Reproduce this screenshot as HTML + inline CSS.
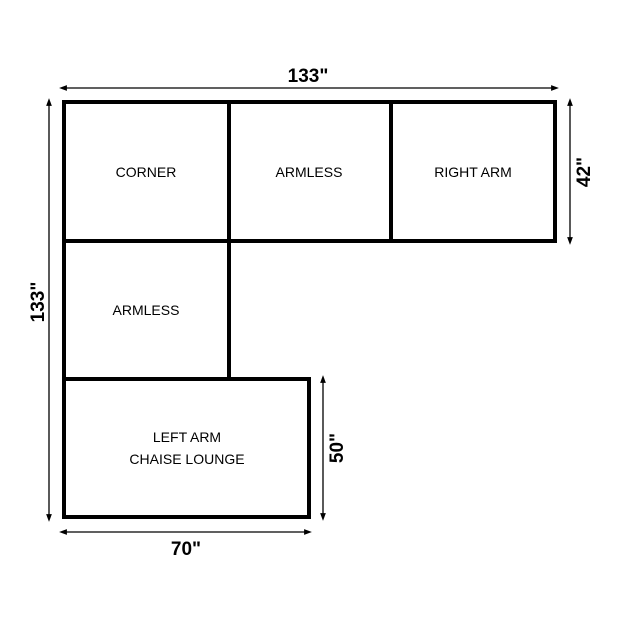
<!DOCTYPE html>
<html><head><style>html,body{margin:0;padding:0;background:#fff}</style></head><body>
<svg width="620" height="620" xmlns="http://www.w3.org/2000/svg" font-family="Liberation Sans, sans-serif">
<defs><marker id="a" markerWidth="6" markerHeight="6" refX="3" refY="3" orient="auto-start-reverse"><path d="M0,0.8 L6,3 L0,5.2z" fill="#000"/></marker></defs>
<g stroke="#000" stroke-width="4" fill="none">
<rect x="64" y="102" width="491" height="139"/>
<line x1="229" y1="102" x2="229" y2="241"/>
<line x1="391" y1="102" x2="391" y2="241"/>
<line x1="64" y1="241" x2="64" y2="379"/>
<line x1="229" y1="241" x2="229" y2="379"/>
<rect x="64" y="379" width="245" height="138"/>
</g>
<g stroke="#000" stroke-width="1.3" marker-start="url(#a)" marker-end="url(#a)">
<line x1="63" y1="88" x2="555" y2="88"/>
<line x1="49" y1="102" x2="49" y2="518"/>
<line x1="570" y1="102" x2="570" y2="241"/>
<line x1="323" y1="379" x2="323" y2="517"/>
<line x1="63" y1="532" x2="308" y2="532"/>
</g>
<g font-size="14" text-anchor="middle" fill="#000">
<text x="146" y="177">CORNER</text>
<text x="309" y="177">ARMLESS</text>
<text x="473" y="177">RIGHT ARM</text>
<text x="146" y="315">ARMLESS</text>
<text x="187" y="442">LEFT ARM</text>
<text x="187" y="464">CHAISE LOUNGE</text>
</g>
<g font-size="19" font-weight="bold" text-anchor="middle" fill="#000">
<text x="308" y="82">133"</text>
<text x="186" y="555">70"</text>
<text transform="translate(44,302) rotate(-90)">133"</text>
<text transform="translate(590,172) rotate(-90)">42"</text>
<text transform="translate(343,448) rotate(-90)">50"</text>
</g>
</svg>
</body></html>
